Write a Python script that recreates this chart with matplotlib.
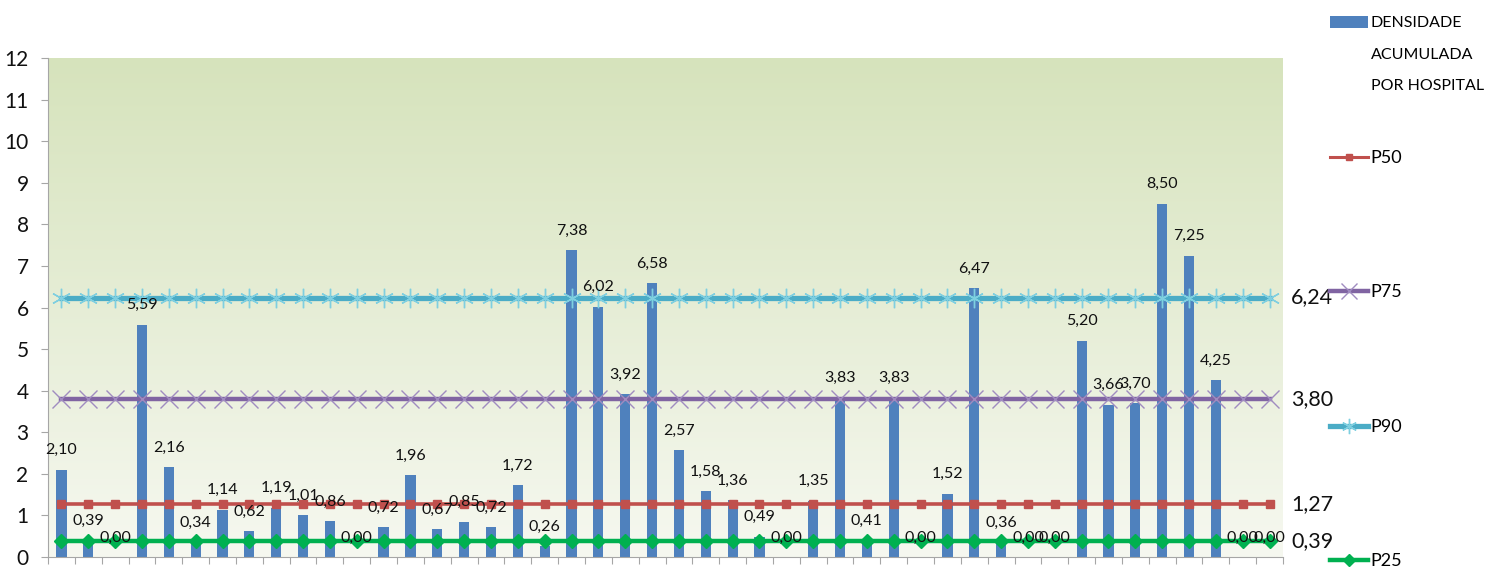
import numpy as np
import matplotlib
matplotlib.use("Agg")
import matplotlib.pyplot as plt
from matplotlib.colors import LinearSegmentedColormap
from matplotlib.patches import Patch, Rectangle
from matplotlib.lines import Line2D
from matplotlib.legend_handler import HandlerPatch

plt.rcParams['font.family'] = ['Lato', 'DejaVu Sans']

# densidade acumulada por hospital
densidade = [2.10, 0.39, 0.00, 5.59, 2.16, 0.34, 1.14, 0.62, 1.19, 1.01,
             0.86, 0.00, 0.72, 1.96, 0.67, 0.85, 0.72, 1.72, 0.26, 7.38,
             6.02, 3.92, 6.58, 2.57, 1.58, 1.36, 0.49, 0.00, 1.35, 3.83,
             0.41, 3.83, 0.00, 1.52, 6.47, 0.36, 0.00, 0.00, 5.20, 3.66,
             3.70, 8.50, 7.25, 4.25, 0.00, 0.00]
p25 = 0.39
p50 = 1.27
p75 = 3.80
p90 = 6.24

n = len(densidade)
x = np.arange(n)

def fmt(v):
    return f"{v:.2f}".replace('.', ',')

fig = plt.figure(figsize=(14.85, 5.67), dpi=100)
ax = fig.add_axes([48 / 1485, (567 - 557) / 567, (1283 - 48) / 1485, (557 - 58) / 567])

# fundo em degradê verde
cmap = LinearSegmentedColormap.from_list('fundo', ['#f6f8f0', '#d6e3bc'])
grad = np.linspace(0, 1, 256).reshape(-1, 1)
ax.imshow(grad, aspect='auto', cmap=cmap, origin='lower',
          extent=[-0.5, n - 0.5, 0, 12], zorder=0)

ax.bar(x, densidade, width=0.38, color='#4f81bd', zorder=2)

ax.plot(x, [p50] * n, color='#c0504d', lw=2.6, marker='s', ms=5.5, zorder=3)
ax.plot(x, [p25] * n, color='#00b050', lw=3.2, marker='D', ms=7, zorder=3)
ax.plot(x, [p75] * n, color='#8064a2', lw=3.2, zorder=3)
ax.plot(x, [p75] * n, ls='none', marker='x', ms=13, mew=1.0, mec='#a08cc0', zorder=3)
ax.plot(x, [p90] * n, color='#4bacc6', lw=3.8, zorder=3)
ax.plot(x, [p90] * n, ls='none', marker=(6, 2, 0), ms=14, mew=1.0, mec='#7fcfe0', zorder=3)

for xi, v in zip(x, densidade):
    ax.annotate(fmt(v), (xi, v), xytext=(0, 9), textcoords='offset points',
                ha='center', va='bottom', fontsize=11.5, color='#111111', zorder=4)

for v in [p90, p75, p50, p25]:
    ax.text(n - 0.2, v, fmt(v), ha='left', va='center', fontsize=15.5, color='#111111',
            clip_on=False)

ax.set_xlim(-0.5, n - 0.5)
ax.set_ylim(0, 12)
ax.set_yticks(range(0, 13))
ax.set_xticks(np.arange(-0.5, n, 1))
ax.set_xticklabels([])
ax.tick_params(axis='y', labelsize=15, colors='#111111', length=5, color='#a6a6a6', pad=9)
ax.tick_params(axis='x', length=5, color='#a6a6a6', direction='out')
for s in ['top', 'right']:
    ax.spines[s].set_visible(False)
for s in ['left', 'bottom']:
    ax.spines[s].set_color('#a6a6a6')


def caixa_topo(legend, orig_handle, xdescent, ydescent, width, height, fontsize):
    # caixa azul alinhada com a primeira linha do rótulo
    return Rectangle((-xdescent, -ydescent + 23.5), width, height)


leg1 = fig.legend([Patch(facecolor='#4f81bd')], ['DENSIDADE\nACUMULADA\nPOR HOSPITAL'],
                  loc='upper left', bbox_to_anchor=(1330 / 1485, 1 - 16 / 567),
                  frameon=False, fontsize=11.5, handlelength=2.4, handleheight=0.75,
                  handletextpad=0.15, borderaxespad=0, borderpad=0,
                  handler_map={Patch: HandlerPatch(patch_func=caixa_topo)})
leg1.get_texts()[0].set_linespacing(2.6)

handles = [
    Line2D([], [], color='#c0504d', lw=2.2, marker='s', ms=5),
    Line2D([], [], color='#8064a2', lw=3.2, marker='x', ms=11, mec='#a08cc0', mew=1),
    Line2D([], [], color='#4bacc6', lw=3.8, marker=(6, 2, 0), ms=11, mec='#7fcfe0', mew=1),
    Line2D([], [], color='#00b050', lw=3.2, marker='D', ms=6),
]
labels = ['P50', 'P75', 'P90', 'P25']
fig.legend(handles, labels, loc='upper left', bbox_to_anchor=(1330 / 1485, 1 - 150 / 567),
           frameon=False, fontsize=13, labelspacing=6.56, handlelength=2.1,
           handletextpad=0.15, borderaxespad=0, borderpad=0)

fig.savefig('out.png', dpi=100)
